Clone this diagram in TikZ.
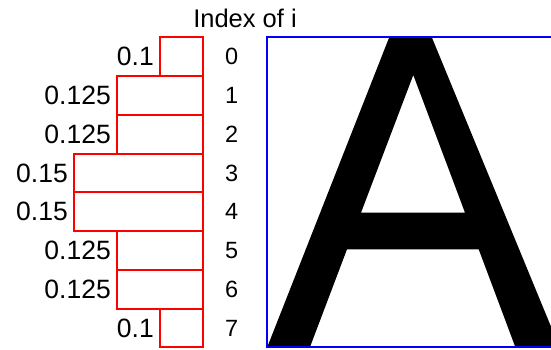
\documentclass[tikz,border=0pt]{standalone}
\usepackage{fontspec}
\setmainfont{Liberation Sans}
\usepackage{tikz}
\usetikzlibrary{positioning}

\begin{document}
\begin{tikzpicture}[
    x=1pt, y=-1pt,
    node distance=6pt,
    bar/.style={rectangle, draw=red, line width=1.2pt, inner sep=0pt, outer sep=0pt, anchor=north east},
    val/.style={inner sep=0pt, font=\fontsize{26.5}{31}\selectfont},
    idx/.style={inner sep=0pt, font=\fontsize{23.5}{28}\selectfont},
    frame/.style={draw=blue, line width=1.2pt}
]
    \useasboundingbox (0,0) rectangle (551,349);
    % row: index / weight / bar width / top / height
    \foreach \i/\v/\w/\t/\h in {0/0.1/43/37/39, 1/0.125/86/76/39, 2/0.125/86/115/39, 3/0.15/129/154/38,
                                4/0.15/129/192/39, 5/0.125/86/231/39, 6/0.125/86/270/39, 7/0.1/43/309/38} {
        \node[bar, minimum width=\w pt, minimum height=\h pt] (bar\i) at (203,\t) {};
        \node[val, left=of bar\i] (val\i) {\v};
        \node[idx, right=22pt of bar\i] (idx\i) {\i};
    }
    \node[anchor=base, inner sep=0pt, font=\fontsize{25.5}{30}\selectfont] (title) at (245,27) {Index of i};
    % the letter, cut by the frame
    \begin{scope}
        \clip (267,37) rectangle (551,347);
        \fill[black, even odd rule]
            (392.1,30) -- (428.8,30) -- (559.4,347) -- (515.3,347) -- (478.7,249.3)
            -- (347,249.3) -- (310,347) -- (267.3,347) -- cycle
            (413.3,75) -- (465,212.7) -- (361,212.7) -- cycle;
    \end{scope}
    \draw[frame] (267,37) rectangle (560,347);
\end{tikzpicture}
\end{document}
